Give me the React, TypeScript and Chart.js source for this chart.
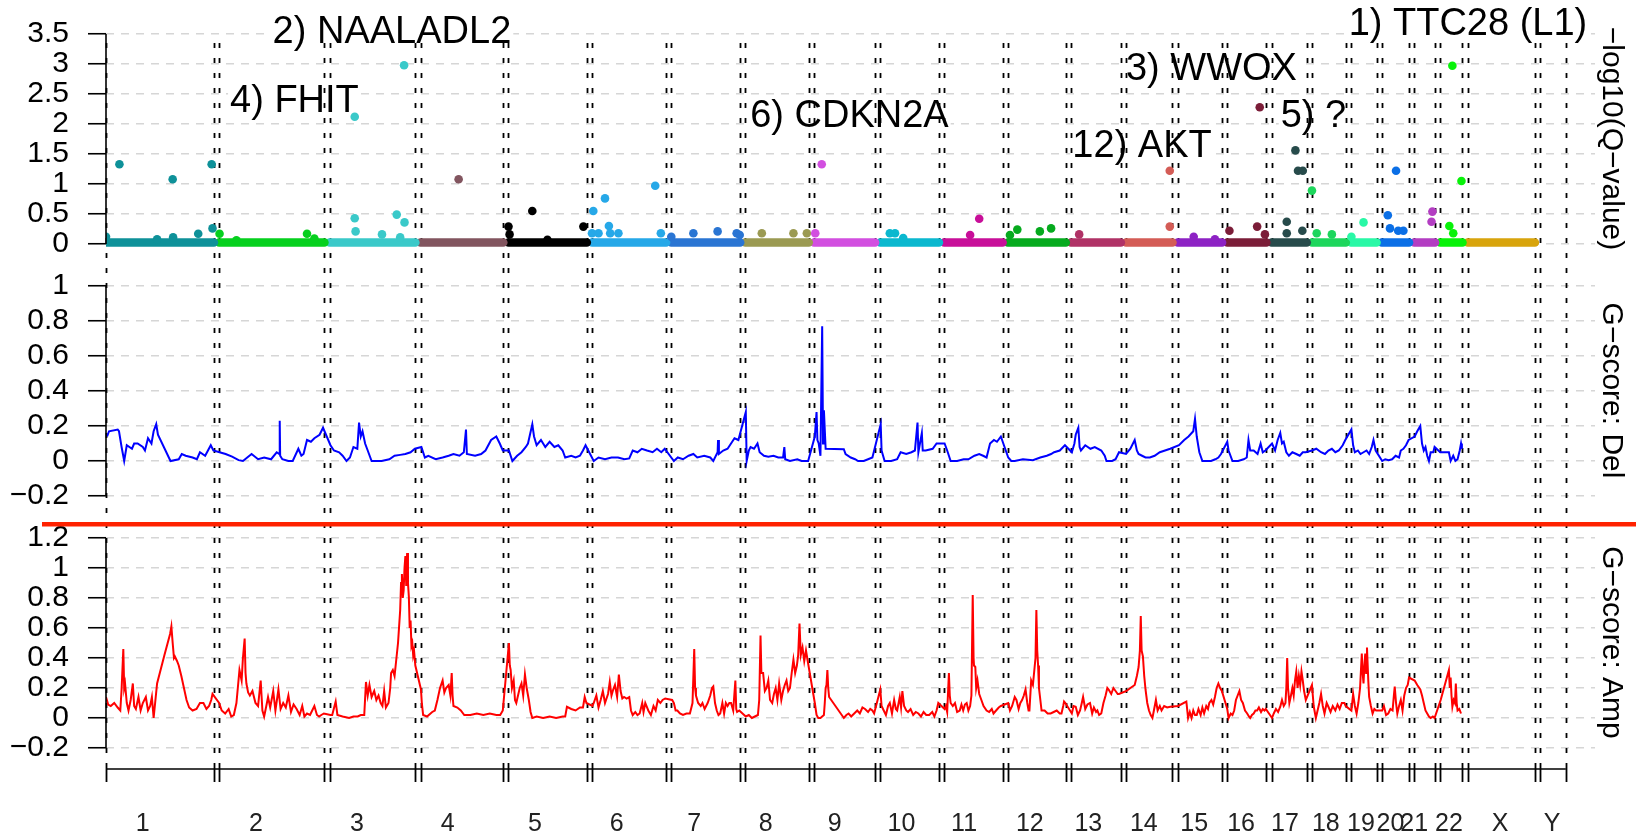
import React, { useEffect, useRef } from "react";
import { Chart, registerables } from "chart.js";

Chart.register(...registerables);

// ---------------- DATA ----------------
const CHROMOSOMES = ["1","2","3","4","5","6","7","8","9","10","11","12","13","14","15","16","17","18","19","20","21","22","X","Y"];
const CHROM_LENGTH_MB = [249.25, 243.2, 198.0, 191.15, 180.9, 171.1, 159.1, 146.4, 141.2, 135.5, 135.0, 133.9, 115.2, 107.3, 102.5, 90.4, 81.2, 78.1, 59.1, 63.0, 48.1, 51.3, 155.3, 59.4];
const CHROM_GAP_MB = 12;
// where the chromosome name sits (Mb from chromosome start)
const CHROM_LABEL_MB = [85, 85, 63, 63, 61, 57, 53, 47, 48, 49, 46, 51, 40, 41, 38, 32, 31, 32, 23, 20, 0, 20, 75, 28];
const CHROM_COLORS = ["#0e9199", "#06d01e", "#3ac9c9", "#82555f", "#000000", "#26a8e8", "#2a75d3", "#9b9a52", "#d24fe0", "#0bb8cf", "#c80f99", "#06aa1e", "#b03266", "#d45c56", "#8d22c4", "#7b1d38", "#274b4b", "#1dd65c", "#29f8a6", "#0b6fe6", "#b33dc2", "#08f209", "#d8a40c", "#888888"];
const HAS_Q_BASELINE = [1,1,1,1,1,1,1,1,1,1,1,1,1,1,1,1,1,1,1,1,1,1,1,0];

// -log10(Q) values: most markers sit at this baseline
const Q_BASELINE = 0.025;
// [chromosome index (1-based), position Mb, -log10(Q)]
const Q_POINTS: [number, number, number][] = [
  [1,0,0.12],[1,31,1.33],[1,118,0.08],[1,154,1.08],[1,155,0.11],[1,213,0.17],[1,244,1.33],[1,246,0.26],
  [2,1,0.17],[2,40,0.06],[2,203,0.17],[2,220,0.09],
  [3,58,2.12],[3,58,0.43],[3,60,0.21],[3,121,0.16],[3,155,0.49],[3,163,0.11],[3,172,2.98],[3,173,0.36],
  [4,88,1.08],
  [5,0,0.29],[5,2.5,0.16],[5,55,0.55],[5,90,0.07],[5,173,0.29],
  [6,0,0.18],[6,3,0.55],[6,15,0.18],[6,30,0.76],[6,39,0.3],[6,42,0.18],[6,61,0.18],[6,146,0.97],[6,159,0.18],
  [7,0,0.12],[7,51,0.18],[7,107,0.21],[7,151,0.18],[7,158,0.15],
  [8,38,0.18],[8,111,0.18],[8,142,0.18],
  [9,3,0.18],[9,18,1.33],
  [10,22,0.18],[10,34,0.18],[10,53,0.1],
  [11,60,0.15],[11,81,0.42],
  [12,5,0.15],[12,22,0.24],[12,74,0.21],[12,100,0.26],
  [13,19,0.16],
  [14,101,1.22],[14,101,0.29],
  [15,37,0.12],[15,86,0.08],
  [16,5,0.22],[16,69,0.29],[16,75,2.28],[16,87,0.16],
  [17,35,0.37],[17,35,0.18],[17,55,1.56],[17,61,1.22],[17,71,0.22],[17,72,1.22],
  [18,0,0.89],[18,11,0.18],[18,46,0.16],
  [19,1,0.12],[19,29,0.36],
  [20,14,0.48],[20,19,0.26],[20,33,1.22],[20,38,0.22],[20,50,0.22],
  [21,40,0.37],[21,42,0.54],
  [22,21,0.3],[22,28,2.97],[22,30,0.18],[22,49,1.05],
];

// [text, chromosome index, position Mb, -log10(Q) at text centre]
const PEAK_LABELS: [string, number, number, number][] = [
  ["2) NAALADL2", 3, 144, 3.52],
  ["4) FHIT", 2, 174, 2.37],
  ["6) CDKN2A", 9, 82, 2.12],
  ["12) AKT", 14, 37, 1.62],
  ["3) WWOX", 15, 78, 2.9],
  ["5) ?", 18, 3.5, 2.12],
  ["1) TTC28 (L1)", 23, 0.7, 3.65],
];

const Q_TICKS = [0, 0.5, 1, 1.5, 2, 2.5, 3, 3.5];
const DEL_TICKS = [-0.2, 0, 0.2, 0.4, 0.6, 0.8, 1];
const AMP_TICKS = [-0.2, 0, 0.2, 0.4, 0.6, 0.8, 1, 1.2];

const Q_TITLE = "\u2212log10(Q\u2212value)";
const DEL_TITLE = "G\u2212score: Del";
const AMP_TITLE = "G\u2212score: Amp";

// G-score (deletions), per chromosome: flat pairs [position Mb, score, ...]
const DEL_TRACE: number[][] = [
  [2.5,0.14, 7,0.17, 27,0.18, 30,0.17, 36,0.08, 42,0.0, 48,0.09, 60,0.07, 65,0.1, 73,0.1, 85,0.08, 90,0.06, 97,0.13, 105,0.1, 110,0.17, 116,0.21, 120,0.15, 149,0.0, 168,0.01, 175,0.04, 184,0.03, 200,0.02, 210,0.01, 217,0.05, 229,0.03, 242,0.09, 248,0.06],
  [1,0.05, 15,0.04, 30,0.025, 45,0.005, 55,0.0, 65,0.02, 75,0.04, 90,0.01, 104,0.02, 120,0.01, 133,0.05, 139,0.04, 140,0.23, 141,0.03, 146,0.01, 160,0.0, 170,0.0, 183,0.07, 190,0.03, 195,0.04, 203,0.12, 212,0.11, 220,0.13, 232,0.15, 240,0.19],
  [2,0.09, 10,0.06, 22,0.05, 30,0.03, 39,0.0, 47,0.02, 55,0.08, 64,0.07, 68,0.22, 72,0.14, 76,0.17, 82,0.1, 88,0.06, 97,0.0, 120,0.0, 138,0.01, 150,0.03, 163,0.035, 175,0.04, 187,0.05, 197,0.07],
  [2,0.08, 10,0.02, 18,0.03, 35,0.01, 51,0.02, 65,0.03, 76,0.04, 90,0.03, 100,0.05, 105,0.18, 107,0.04, 126,0.03, 140,0.04, 150,0.06, 163,0.12, 175,0.14, 183,0.1, 190,0.06],
  [1,0.06, 9,0.0, 20,0.03, 30,0.05, 40,0.08, 45,0.1, 55,0.21, 59,0.14, 65,0.09, 75,0.12, 85,0.08, 95,0.11, 106,0.08, 115,0.09, 125,0.06, 131,0.02, 145,0.03, 155,0.02, 165,0.03, 172,0.06, 178,0.09],
  [4,0.0, 15,0.02, 30,0.01, 45,0.02, 60,0.02, 75,0.01, 86,0.015, 94,0.06, 105,0.05, 115,0.07, 127,0.06, 140,0.05, 150,0.07, 160,0.05, 168,0.07],
  [6,0.0, 15,0.02, 27,0.01, 40,0.03, 51,0.04, 60,0.02, 76,0.03, 90,0.02, 97,0.0, 107,0.05, 108,0.12, 110,0.04, 120,0.06, 130,0.07, 138,0.1, 146,0.13, 155,0.12],
  [1,0.28, 3,0.0, 8,0.06, 12,0.08, 20,0.07, 28,0.1, 33,0.05, 43,0.03, 53,0.025, 65,0.03, 76,0.02, 87,0.02, 90,0.08, 92,0.01, 103,0.0, 120,0.01, 130,0.0, 145,0.0],
  [2,0.14, 6,0.28, 8,0.12, 11,0.1, 15,0.03, 19,0.77, 21,0.1, 23,0.29, 27,0.07, 69,0.067, 73,0.04, 85,0.02, 95,0.01, 102,0.0, 115,0.0, 125,0.01, 135,0.02],
  [1,0.21, 3,0.06, 10,0.0, 25,0.0, 39,0.01, 47,0.05, 60,0.04, 72,0.05, 80,0.06, 86,0.22, 88,0.05, 96,0.16, 98,0.06, 105,0.06, 121,0.07, 130,0.1],
  [1,0.1, 7,0.06, 15,0.0, 30,0.0, 45,0.01, 56,0.01, 70,0.03, 81,0.04, 90,0.03, 98,0.02, 106,0.1, 115,0.12, 122,0.11, 131,0.14],
  [1,0.02, 8,0.0, 16,0.0, 35,0.01, 58,0.005, 75,0.02, 90,0.03, 100,0.04, 107,0.05, 120,0.06, 132,0.09],
  [2,0.05, 8,0.1, 11,0.15, 17,0.19, 20,0.08, 23,0.06, 33,0.09, 45,0.07, 55,0.08, 70,0.06, 78,0.03, 82,0.0, 95,0.0, 103,0.01, 111,0.05],
  [0,0.04, 10,0.07, 20,0.12, 25,0.06, 29,0.04, 37,0.03, 45,0.02, 55,0.02, 66,0.03, 78,0.05, 90,0.06, 102,0.07],
  [3,0.09, 15,0.12, 25,0.14, 36,0.17, 40,0.24, 44,0.14, 50,0.05, 57,0.0, 70,0.0, 77,0.0, 87,0.01, 94,0.02, 100,0.04],
  [0,0.11, 3,0.06, 12,0.0, 25,0.0, 38,0.01, 45,0.02, 49,0.12, 53,0.06, 61,0.06, 70,0.04, 77,0.1, 82,0.05, 88,0.06],
  [1,0.1, 8,0.06, 14,0.12, 20,0.16, 24,0.1, 28,0.11, 34,0.05, 40,0.03, 48,0.05, 57,0.04, 65,0.03, 72,0.05, 79,0.05],
  [0,0.06, 10,0.07, 21,0.05, 30,0.04, 38,0.06, 46,0.07, 54,0.05, 62,0.06, 71,0.09, 77,0.12],
  [1,0.18, 5,0.09, 9,0.05, 16,0.06, 22,0.04, 29,0.05, 36,0.06, 42,0.04, 48,0.08, 52,0.12, 57,0.06],
  [1,0.0, 8,0.01, 16,0.005, 24,0.01, 32,0.03, 40,0.02, 44,0.06, 50,0.07, 56,0.09, 62,0.12],
  [1,0.14, 7,0.17, 14,0.2, 18,0.1, 22,0.06, 26,0.08, 30,0.03, 34,0.0, 38,0.05, 44,0.05, 47,0.08],
  [0,0.05, 10,0.05, 20,0.05, 24,0.0, 30,0.03, 35,0.0, 40,0.01, 45,0.06, 48,0.1, 50,0.07],
];

// G-score (amplifications), per chromosome: flat pairs [position Mb, score, ...]
const AMP_TRACE: number[][] = [
  [0,0.14, 5,0.09, 11,0.08, 19,0.1, 27,0.07, 33,0.05, 36,0.19, 40,0.46, 42,0.2, 44,0.23, 48,0.1, 52,0.05, 57,0.12, 62,0.23, 65,0.08, 69,0.06, 75,0.14, 80,0.05, 85,0.1, 92,0.14, 97,0.05, 102,0.08, 106,0.14, 110,0.0, 118,0.23, 135,0.42, 148,0.56, 151,0.61, 154,0.5, 157,0.4, 159,0.41, 164,0.38, 168,0.35, 174,0.28, 180,0.2, 186,0.12, 192,0.07, 200,0.05, 209,0.06, 217,0.1, 225,0.1, 232,0.06, 238,0.08, 243,0.12, 246,0.16],
  [0,0.1, 6,0.05, 14,0.03, 22,0.06, 28,0.01, 34,0.02, 40,0.1, 47,0.32, 52,0.25, 55,0.4, 59,0.53, 61,0.3, 63,0.23, 67,0.17, 71,0.15, 77,0.18, 84,0.1, 90,0.08, 96,0.25, 100,0.05, 104,0.01, 109,0.08, 113,0.14, 118,0.07, 125,0.18, 130,0.05, 137,0.19, 142,0.06, 148,0.1, 154,0.07, 160,0.15, 166,0.04, 172,0.09, 179,0.06, 186,0.02, 192,0.08, 197,0.01, 203,0.03, 210,0.02, 215,0.05, 220,0.08, 226,0.02, 231,0.01, 236,0.02, 242,0.03],
  [2,0.02, 6,0.02, 14,0.11, 18,0.02, 30,0.01, 45,0.0, 55,0.01, 65,0.01, 72,0.02, 80,0.02, 84,0.24, 88,0.15, 92,0.22, 97,0.14, 103,0.18, 108,0.12, 113,0.15, 118,0.1, 122,0.08, 126,0.18, 130,0.07, 136,0.1, 140,0.2, 142,0.3, 146,0.32, 150,0.28, 154,0.39, 158,0.5, 163,0.72, 165,0.9, 167,0.96, 169,0.8, 171,0.85, 173,1.0, 175,1.08, 177,0.88, 179,1.1, 181,0.9, 183,0.81, 185,0.6, 187,0.65, 189,0.48, 191,0.5, 193,0.42, 195,0.45, 198,0.35],
  [1,0.19, 3,0.1, 6,0.02, 15,0.01, 27,0.04, 33,0.05, 39,0.12, 45,0.2, 51,0.25, 55,0.17, 59,0.2, 65,0.22, 69,0.15, 72,0.3, 74,0.15, 76,0.08, 85,0.07, 93,0.05, 101,0.02, 115,0.02, 130,0.03, 145,0.02, 160,0.03, 175,0.02, 184,0.02, 190,0.05],
  [1,0.5, 3,0.35, 5,0.32, 8,0.2, 12,0.25, 15,0.12, 18,0.1, 22,0.15, 26,0.2, 30,0.23, 34,0.15, 38,0.29, 42,0.2, 47,0.12, 51,0.04, 55,0.0, 65,0.01, 80,0.0, 95,0.01, 110,0.0, 125,0.01, 131,0.01, 135,0.075, 145,0.06, 155,0.05, 165,0.07, 172,0.07, 176,0.14, 180,0.1],
  [1,0.08, 4,0.1, 10,0.15, 15,0.07, 20,0.12, 25,0.18, 30,0.1, 37,0.16, 41,0.24, 45,0.15, 49,0.19, 53,0.22, 58,0.14, 62,0.29, 66,0.18, 70,0.13, 74,0.14, 80,0.13, 86,0.14, 90,0.05, 94,0.02, 100,0.04, 105,0.02, 110,0.03, 116,0.1, 119,0.04, 123,0.1, 130,0.05, 136,0.02, 142,0.08, 147,0.05, 152,0.12, 158,0.1, 163,0.12, 169,0.13],
  [2,0.12, 6,0.1, 10,0.05, 14,0.05, 20,0.03, 27,0.02, 35,0.03, 43,0.03, 49,0.1, 53,0.46, 55,0.2, 57,0.15, 62,0.1, 68,0.08, 72,0.1, 77,0.06, 84,0.1, 90,0.15, 94,0.2, 97,0.21, 101,0.1, 105,0.05, 109,0.02, 113,0.03, 118,0.1, 122,0.03, 126,0.1, 130,0.08, 134,0.1, 138,0.1, 143,0.05, 148,0.25, 150,0.06, 152,0.04, 157,0.05],
  [1,0.01, 8,0.02, 15,0.0, 22,0.01, 29,0.02, 32,0.12, 35,0.55, 37,0.3, 41,0.3, 45,0.18, 49,0.2, 53,0.25, 57,0.12, 62,0.1, 66,0.16, 70,0.2, 74,0.12, 78,0.23, 83,0.12, 87,0.18, 91,0.22, 95,0.25, 99,0.18, 103,0.2, 107,0.3, 111,0.39, 115,0.3, 119,0.35, 122,0.42, 125,0.63, 128,0.42, 132,0.47, 136,0.38, 140,0.45, 144,0.38],
  [2,0.1, 6,0.02, 10,0.0, 15,0.0, 19,0.01, 23,0.02, 25,0.1, 27,0.2, 29,0.22, 31,0.32, 33,0.2, 35,0.14, 69,0.0, 75,0.02, 80,0.03, 86,0.01, 93,0.03, 100,0.05, 106,0.03, 112,0.07, 118,0.06, 125,0.04, 130,0.06, 135,0.05, 139,0.03],
  [0,0.19, 3,0.08, 8,0.05, 13,0.02, 18,0.08, 22,0.1, 27,0.03, 32,0.12, 36,0.06, 39,0.05, 45,0.14, 48,0.07, 51,0.18, 55,0.08, 60,0.05, 64,0.04, 70,0.06, 76,0.02, 82,0.04, 88,0.03, 94,0.01, 100,0.04, 106,0.02, 113,0.02, 120,0.04, 125,0.01, 130,0.05, 134,0.1],
  [1,0.06, 4,0.08, 7,0.04, 11,0.3, 13,0.15, 15,0.1, 20,0.08, 25,0.1, 30,0.04, 36,0.05, 40,0.09, 44,0.05, 48,0.09, 52,0.1, 56,0.05, 60,0.08, 63,0.15, 66,0.82, 68,0.4, 69,0.35, 72,0.34, 74,0.2, 77,0.25, 81,0.16, 86,0.12, 91,0.08, 98,0.05, 104,0.04, 110,0.06, 114,0.03, 120,0.05, 126,0.07, 131,0.08],
  [1,0.1, 5,0.05, 10,0.08, 16,0.14, 20,0.12, 25,0.06, 29,0.1, 33,0.12, 37,0.15, 41,0.19, 45,0.1, 48,0.05, 50,0.05, 54,0.25, 58,0.22, 62,0.34, 64,0.4, 66,0.72, 68,0.45, 70,0.35, 72,0.2, 74,0.15, 78,0.05, 85,0.05, 92,0.03, 99,0.03, 106,0.04, 113,0.05, 120,0.03, 124,0.03, 128,0.08, 130,0.11, 133,0.1],
  [2,0.03, 6,0.08, 11,0.075, 16,0.02, 21,0.05, 25,0.1, 28,0.14, 33,0.06, 38,0.09, 44,0.1, 49,0.03, 53,0.07, 58,0.04, 61,0.05, 65,0.02, 70,0.03, 75,0.1, 80,0.15, 84,0.2, 87,0.19, 93,0.16, 98,0.2, 103,0.18, 108,0.16, 111,0.16],
  [1,0.18, 10,0.2, 20,0.22, 25,0.28, 29,0.34, 32,0.45, 34,0.68, 36,0.45, 39,0.41, 42,0.28, 45,0.19, 49,0.1, 53,0.05, 57,0.02, 61,0.0, 65,0.06, 69,0.12, 73,0.05, 78,0.08, 82,0.05, 88,0.08, 95,0.07, 102,0.075],
  [1,0.08, 20,0.11, 24,0.0, 28,0.04, 32,0.0, 36,0.05, 40,0.02, 44,0.02, 48,0.06, 53,0.02, 57,0.07, 61,0.03, 66,0.08, 70,0.06, 73,0.1, 78,0.12, 82,0.09, 86,0.14, 90,0.2, 94,0.23, 98,0.2, 102,0.18],
  [0,0.06, 3,0.0, 8,0.03, 12,0.02, 16,0.05, 20,0.12, 24,0.15, 28,0.18, 32,0.12, 36,0.1, 41,0.05, 46,0.03, 50,0.01, 53,0.0, 57,0.02, 61,0.03, 65,0.05, 69,0.05, 73,0.07, 78,0.04, 82,0.06, 86,0.05, 89,0.06],
  [1,0.0, 5,0.03, 10,0.06, 15,0.04, 20,0.075, 24,0.12, 28,0.08, 32,0.1, 34,0.2, 36,0.4, 38,0.2, 41,0.1, 44,0.14, 48,0.2, 51,0.15, 54,0.25, 57,0.31, 60,0.2, 63,0.28, 66,0.22, 69,0.31, 72,0.25, 75,0.18, 79,0.12],
  [0,0.22, 4,0.08, 9,0.0, 13,0.05, 17,0.1, 21,0.16, 25,0.08, 29,0.03, 34,0.1, 38,0.075, 43,0.04, 48,0.08, 54,0.05, 59,0.09, 64,0.06, 69,0.1, 75,0.1, 78,0.08],
  [1,0.05, 5,0.16, 9,0.08, 13,0.03, 17,0.1, 21,0.2, 25,0.43, 27,0.3, 29,0.23, 31,0.35, 33,0.43, 35,0.3, 37,0.47, 40,0.25, 42,0.14, 46,0.08, 50,0.03, 54,0.06, 58,0.05],
  [1,0.05, 5,0.08, 10,0.02, 15,0.03, 20,0.06, 25,0.05, 28,0.15, 30,0.21, 33,0.1, 36,0.03, 40,0.08, 44,0.12, 48,0.05, 52,0.15, 56,0.2, 60,0.22, 63,0.27],
  [1,0.25, 7,0.22, 14,0.19, 18,0.15, 22,0.1, 26,0.05, 30,0.03, 34,0.01, 38,0.0, 43,0.01, 47,0.0],
  [1,0.12, 20,0.32, 22,0.2, 24,0.27, 26,0.15, 28,0.075, 31,0.12, 34,0.1, 36,0.23, 38,0.1, 40,0.05, 44,0.06, 48,0.03],
];

// ---------------- DERIVED ----------------
const CHROM_START: number[] = [];
let acc = 0;
CHROM_LENGTH_MB.forEach((len, i) => {
  CHROM_START.push(acc);
  acc += len + (i < CHROM_LENGTH_MB.length - 1 ? CHROM_GAP_MB : 0);
});
const GENOME_END = acc;
const gpos = (chr: number, pos: number) => CHROM_START[chr - 1] + pos;

const traceToPoints = (trace: number[][]) => {
  const pts: { x: number; y: number }[] = [];
  trace.forEach((flat, i) => {
    for (let k = 0; k < flat.length; k += 2) pts.push({ x: gpos(i + 1, flat[k]), y: flat[k + 1] });
  });
  return pts;
};

const FONT = "'Liberation Sans', Arial, Helvetica, sans-serif";
const fmt = (v: number) => (v < 0 ? "\u2212" + String(Math.abs(v)) : String(v));

const yAxis = (ticks: number[], min: number, max: number, weight: number) => ({
  type: "linear",
  position: "left",
  stack: "panels",
  stackWeight: weight,
  min,
  max,
  afterBuildTicks: (s: any) => {
    s.ticks = ticks.map((v) => ({ value: v }));
  },
  afterFit: (s: any) => {
    s.width = 106;
    s.paddingTop = 0;
    s.paddingBottom = 0;
  },
  grid: {
    color: "#d6d6d6",
    lineWidth: 1.5,
    drawTicks: true,
    tickLength: 18,
    tickColor: "#000",
    tickWidth: 1.6,
    tickBorderDash: [],
  },
  border: { display: false, dash: [8, 7] },
  ticks: {
    autoSkip: false,
    padding: 19,
    color: "#000",
    font: { family: FONT, size: 30 },
    callback: (v: any) => fmt(Number(v)),
  },
});

const overlayPlugin = {
  id: "overlay",
  beforeDatasetsDraw(chart: any) {
    const { ctx, chartArea, scales } = chart;
    const xs = scales.x;
    const yq = scales.yq;
    ctx.save();
    // peak annotations with white background
    ctx.font = `38px ${FONT}`;
    ctx.textAlign = "center";
    ctx.textBaseline = "middle";
    for (const [text, chr, pos, q] of PEAK_LABELS) {
      const px = xs.getPixelForValue(gpos(chr, pos));
      const py = yq.getPixelForValue(q);
      const w = ctx.measureText(text).width;
      ctx.fillStyle = "#fff";
      ctx.fillRect(px - w / 2 - 2, py - 18, w + 4, 36);
      ctx.fillStyle = "#000";
      ctx.fillText(text, px, py);
    }
    // chromosome boundary dashed lines
    ctx.strokeStyle = "#000";
    ctx.lineWidth = 1.8;
    ctx.setLineDash([5, 10]);
    const top = chartArea.top + 23;
    const bottom = chartArea.bottom - 6;
    CHROM_LENGTH_MB.forEach((len, i) => {
      for (const v of [CHROM_START[i], CHROM_START[i] + len]) {
        const px = Math.round(xs.getPixelForValue(v)) + 0.5;
        ctx.beginPath();
        ctx.moveTo(px, top);
        ctx.lineTo(px, bottom);
        ctx.stroke();
      }
    });
    ctx.restore();
  },
  afterDatasetsDraw(chart: any) {
    const { ctx, chartArea, scales } = chart;
    const xs = scales.x;
    ctx.save();
    // y axis lines (tick range only)
    ctx.strokeStyle = "#000";
    ctx.lineWidth = 1.6;
    const axisX = chartArea.left;
    for (const [id, ticks] of [["yq", Q_TICKS], ["yd", DEL_TICKS], ["ya", AMP_TICKS]] as [string, number[]][]) {
      const sc = scales[id];
      ctx.beginPath();
      ctx.moveTo(axisX, sc.getPixelForValue(ticks[ticks.length - 1]));
      ctx.lineTo(axisX, sc.getPixelForValue(ticks[0]));
      ctx.stroke();
    }
    // red separator between Del and Amp panels
    const sepY = scales.ya.top;
    ctx.fillStyle = "#ff2200";
    ctx.fillRect(42, sepY - 2, chart.width - 42, 4.5);
    // x axis
    const axY = chartArea.bottom;
    const x0 = xs.getPixelForValue(0);
    const x1 = xs.getPixelForValue(GENOME_END);
    ctx.strokeStyle = "#000";
    ctx.lineWidth = 1.6;
    ctx.beginPath();
    ctx.moveTo(x0, axY);
    ctx.lineTo(x1, axY);
    ctx.stroke();
    ctx.lineWidth = 1.8;
    CHROM_LENGTH_MB.forEach((len, i) => {
      for (const v of [CHROM_START[i], CHROM_START[i] + len]) {
        const px = Math.round(xs.getPixelForValue(v)) + 0.5;
        ctx.beginPath();
        ctx.moveTo(px, axY - 6);
        ctx.lineTo(px, axY + 13);
        ctx.stroke();
      }
    });
    // chromosome names
    ctx.fillStyle = "#222";
    ctx.font = `25px ${FONT}`;
    ctx.textAlign = "center";
    ctx.textBaseline = "middle";
    CHROMOSOMES.forEach((name, i) => {
      ctx.fillText(name, xs.getPixelForValue(CHROM_START[i] + CHROM_LABEL_MB[i]), axY + 55);
    });
    // right-side panel titles
    ctx.fillStyle = "#000";
    const titles: [string, string][] = [[Q_TITLE, "yq"], [DEL_TITLE, "yd"], [AMP_TITLE, "ya"]];
    for (const [t, id] of titles) {
      const sc = scales[id];
      ctx.save();
      ctx.font = `30px ${FONT}`;
      ctx.translate(1611, (sc.top + sc.bottom) / 2 - 4);
      ctx.rotate(Math.PI / 2);
      ctx.fillText(t, 0, 0);
      ctx.restore();
    }
    ctx.restore();
  },
};

export default function App() {
  const ref = useRef<HTMLCanvasElement>(null);
  useEffect(() => {
    document.body.style.margin = "0";
    const datasets: any[] = [];
    datasets.push({
      type: "scatter",
      label: "peaks",
      data: Q_POINTS.map(([c, p, q]) => ({ x: gpos(c, p), y: q })),
      yAxisID: "yq",
      pointRadius: 4.3,
      pointBorderWidth: 0,
      pointBackgroundColor: Q_POINTS.map(([c]) => CHROM_COLORS[c - 1]),
      showLine: false,
    });
    CHROM_LENGTH_MB.forEach((len, i) => {
      if (!HAS_Q_BASELINE[i]) return;
      datasets.push({
        type: "line",
        label: "chr" + CHROMOSOMES[i],
        data: [
          { x: CHROM_START[i], y: Q_BASELINE },
          { x: CHROM_START[i] + len, y: Q_BASELINE },
        ],
        yAxisID: "yq",
        borderColor: CHROM_COLORS[i],
        borderWidth: 8.6,
        borderCapStyle: "round",
        pointRadius: 0,
      });
    });
    datasets.push({
      type: "line",
      label: "del",
      data: traceToPoints(DEL_TRACE),
      yAxisID: "yd",
      borderColor: "#0000ff",
      borderWidth: 2,
      pointRadius: 0,
      tension: 0,
    });
    datasets.push({
      type: "line",
      label: "amp",
      data: traceToPoints(AMP_TRACE),
      yAxisID: "ya",
      borderColor: "#ff0000",
      borderWidth: 2,
      pointRadius: 0,
      tension: 0,
    });

    const chart = new Chart(ref.current as HTMLCanvasElement, {
      type: "line",
      data: { datasets },
      options: {
        animation: false,
        responsive: false,
        maintainAspectRatio: false,
        events: [],
        layout: { padding: { top: 20, bottom: 66, left: 0, right: 41 } },
        plugins: { legend: { display: false }, tooltip: { enabled: false } },
        scales: {
          x: { type: "linear", display: false, min: 0, max: GENOME_END * 1.02 },
          // left stacked axes are laid out bottom-first
          ya: yAxis(AMP_TICKS, -0.34, 1.2933, 245),
          yd: yAxis(DEL_TICKS, -0.36, 1.12, 259),
          yq: yAxis(Q_TICKS, -0.35, 3.7333, 245),
        } as any,
      },
      plugins: [overlayPlugin],
    } as any);
    return () => chart.destroy();
  }, []);
  return (
    <div style={{ position: "absolute", left: 0, top: 0, width: 1636, height: 835, background: "#fff" }}>
      <canvas ref={ref} width={1636} height={835} style={{ display: "block", width: 1636, height: 835 }} />
    </div>
  );
}
